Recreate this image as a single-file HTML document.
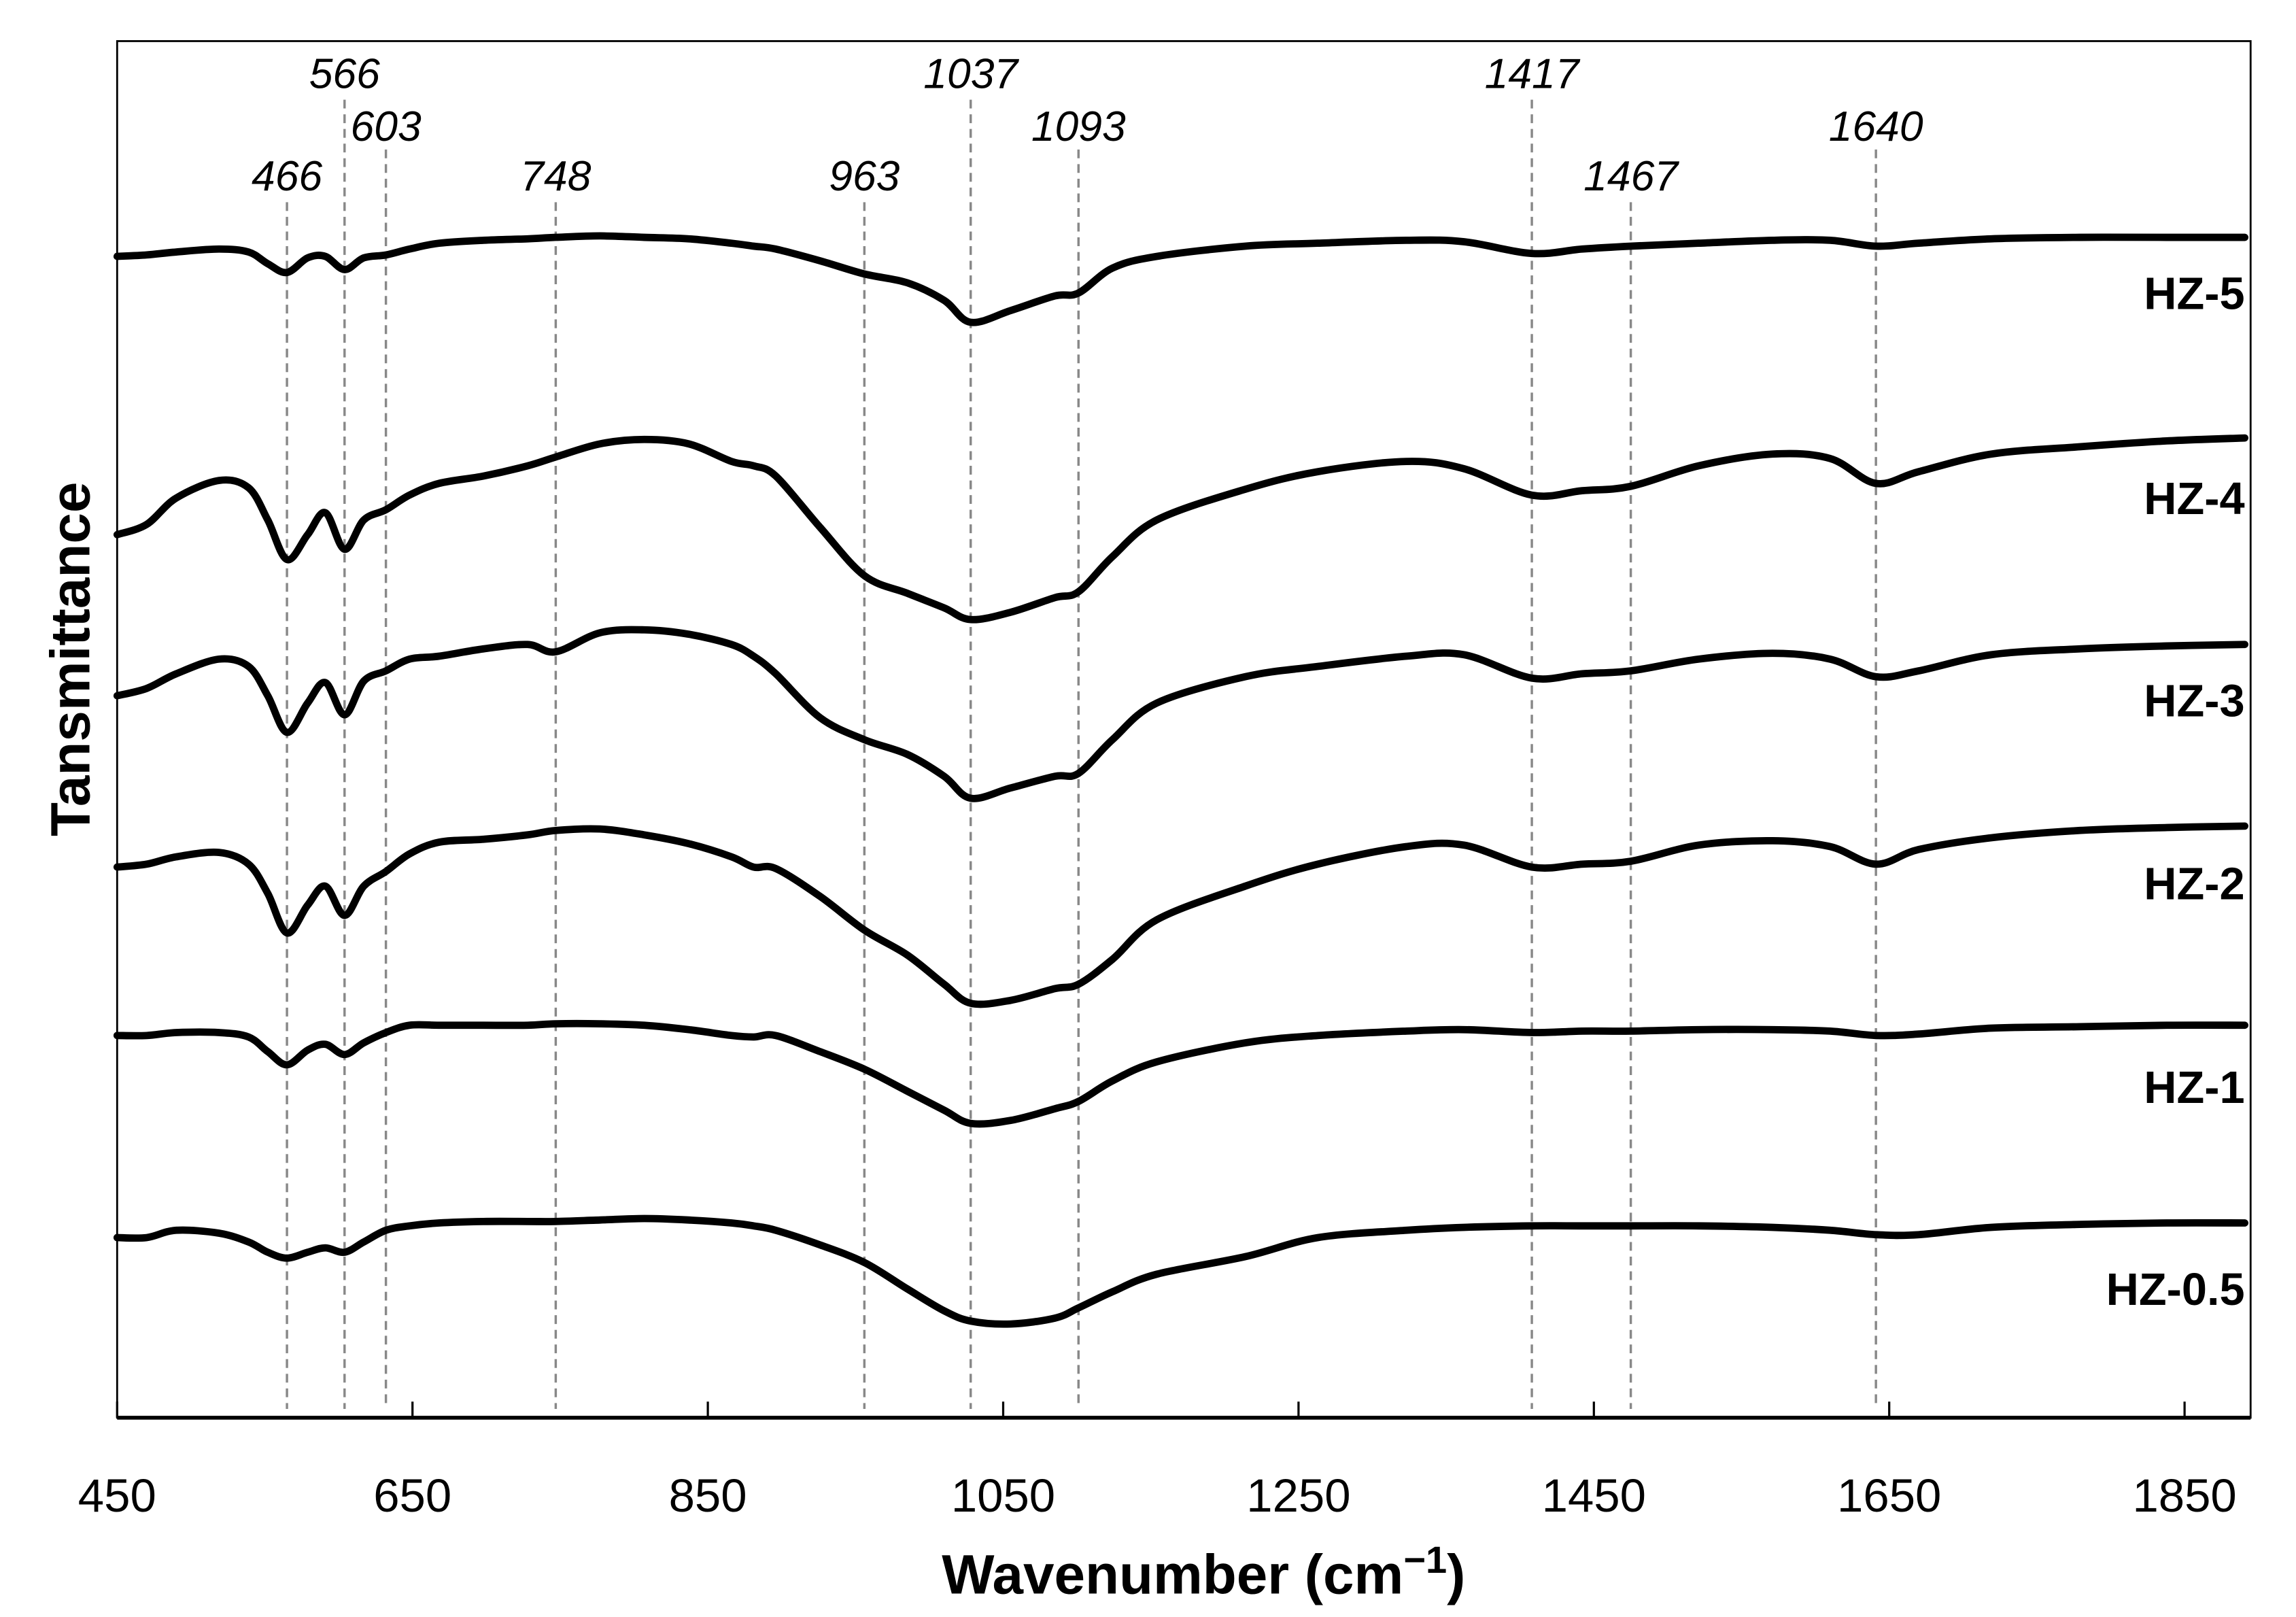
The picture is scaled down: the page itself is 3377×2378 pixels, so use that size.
<!DOCTYPE html>
<html><head><meta charset="utf-8"><style>
html,body{margin:0;padding:0;background:#fff;}
svg{display:block;}
text{font-family:"Liberation Sans",Arial,sans-serif;}
</style></head><body>
<svg id="chart" width="3377" height="2378" viewBox="0 0 1568 1104" xmlns="http://www.w3.org/2000/svg">
<rect x="0" y="0" width="1568" height="1104" fill="#fff"/>
<g id="peaks"></g>
<g id="series"></g>
<rect x="80" y="28" width="1457" height="940" fill="none" stroke="#000" stroke-width="1.3"/>
<line x1="80" y1="968" x2="1537" y2="968" stroke="#000" stroke-width="2.6"/>
<g id="xticks"></g>
<text x="822" y="1088" font-size="38" font-weight="bold" text-anchor="middle">Wavenumber (cm<tspan font-size="26" dy="-14">−1</tspan><tspan dy="14">)</tspan></text>
<text x="0" y="0" font-size="38" font-weight="bold" text-anchor="middle" transform="translate(61,450) rotate(-90)">Tansmittance</text>
</svg>
<script>
const wavenumbers=[450,470,490,519,539,552,565,579,591,604,617,632,648,668,698,728,747,777,807,837,866,881,896,926,956,985,1010,1028,1055,1085,1101,1124,1154,1214,1263,1323,1362,1408,1442,1475,1521,1571,1610,1641,1670,1719,1779,1838,1894];
const seriesNames=["HZ-5","HZ-4","HZ-3","HZ-2","HZ-1","HZ-0.5"];
const hz5=[825,826,828,830,828,820,814,824,825,816,824,826,830,834,836,837,838,839,838,837,834,832,830,822,813,807,795,780,788,798,800,817,825,832,834,836,835,827,830,832,834,836,836,832,834,837,838,838,838];
const hz4=[635,642,660,672,667,645,618,635,650,625,645,652,662,670,675,682,688,697,700,697,685,682,675,640,607,595,585,577,582,592,596,620,645,666,678,685,680,662,665,668,682,690,687,670,678,690,695,699,701];
const hz3=[525,530,540,550,545,525,500,520,534,512,535,542,550,552,557,560,555,568,570,567,560,552,540,510,495,485,470,455,462,470,472,495,520,538,545,552,553,537,540,542,550,554,550,538,542,553,557,559,560];
const hz2=[408,410,415,418,410,390,363,382,395,375,395,405,417,425,427,430,433,434,430,424,415,408,407,388,365,348,328,315,317,325,328,345,372,395,410,422,423,408,410,412,423,426,422,410,420,428,433,435,436];
const hz1=[293,293,295,295,292,282,273,283,287,280,288,295,300,300,300,300,301,301,300,297,293,292,293,282,270,255,242,233,235,243,248,262,275,288,293,296,297,295,296,296,297,297,296,293,294,298,299,300,300];
const hz05=[155,155,160,158,152,145,141,145,148,145,152,160,163,165,166,166,166,167,168,167,165,163,160,150,138,120,105,98,96,100,107,118,130,142,155,160,162,163,163,163,163,162,160,157,157,162,164,165,165];
const labelValues=[800,660,522,397,258,120];
const xTickValues=[450,650,850,1050,1250,1450,1650,1850];
const peakLabels=["466","566","603","748","963","1037","1093","1417","1467","1640"];
const peakPositions=[565,604,632,747,956,1028,1101,1408,1475,1641];
const peakLabelLevels=[2,0,1,2,2,0,1,0,2,1];

const NS="http://www.w3.org/2000/svg";
function xScale(w){return 80+(w-450)*201.7/200;}
function yScale(t){return 1000-t;}
function mk(tag,attrs,parent){const e=document.createElementNS(NS,tag);for(const k in attrs)e.setAttribute(k,attrs[k]);parent.appendChild(e);return e;}
function smoothPath(pts){
  let d="M"+pts[0][0].toFixed(2)+","+pts[0][1].toFixed(2);
  for(let i=0;i<pts.length-1;i++){
    const p0=pts[Math.max(0,i-1)],p1=pts[i],p2=pts[i+1],p3=pts[Math.min(pts.length-1,i+2)];
    const c1=[p1[0]+(p2[0]-p0[0])/6,p1[1]+(p2[1]-p0[1])/6];
    const c2=[p2[0]-(p3[0]-p1[0])/6,p2[1]-(p3[1]-p1[1])/6];
    d+="C"+c1[0].toFixed(2)+","+c1[1].toFixed(2)+" "+c2[0].toFixed(2)+","+c2[1].toFixed(2)+" "+p2[0].toFixed(2)+","+p2[1].toFixed(2);
  }
  return d;
}
const gPeaks=document.getElementById("peaks");
const levelY=[50,86,120];
const lineTop=[68,102,138];
peakLabels.forEach((lab,i)=>{
  const x=xScale(peakPositions[i]);
  const lv=peakLabelLevels[i];
  const l=mk("line",{x1:x,y1:lineTop[lv],x2:x,y2:962,stroke:"#888",'stroke-width':1.6,'stroke-dasharray':"6 4"},gPeaks);
  
  
  const t=mk("text",{x:x,y:levelY[lv]+10,'font-size':29,'font-style':'italic','text-anchor':'middle'},gPeaks);
  t.textContent=lab;
  
  
});
const gS=document.getElementById("series");
const allSeries=[hz5,hz4,hz3,hz2,hz1,hz05];
allSeries.forEach((vals,si)=>{
  const pts=vals.map((v,i)=>[xScale(wavenumbers[i]),yScale(v)]);
  pts[pts.length-1][0]=Math.min(pts[pts.length-1][0],1533);
  const p=mk("path",{d:smoothPath(pts),fill:"none",stroke:"#000",'stroke-width':5,'stroke-linejoin':'round','stroke-linecap':'round'},gS);
  
  
  const t=mk("text",{x:1533,y:yScale(labelValues[si])+11,'font-size':31,'font-weight':'bold','text-anchor':'end'},gS);
  t.textContent=seriesNames[si];
  
  
});
const gX=document.getElementById("xticks");
xTickValues.forEach(v=>{
  const x=xScale(v);
  const tk=mk("line",{x1:x,y1:968,x2:x,y2:957,stroke:"#000",'stroke-width':1.5},gX);
  
  
  const t=mk("text",{x:x,y:1032,'font-size':32,'text-anchor':'middle'},gX);
  t.textContent=v;
  
  
});
</script>
</body></html>
